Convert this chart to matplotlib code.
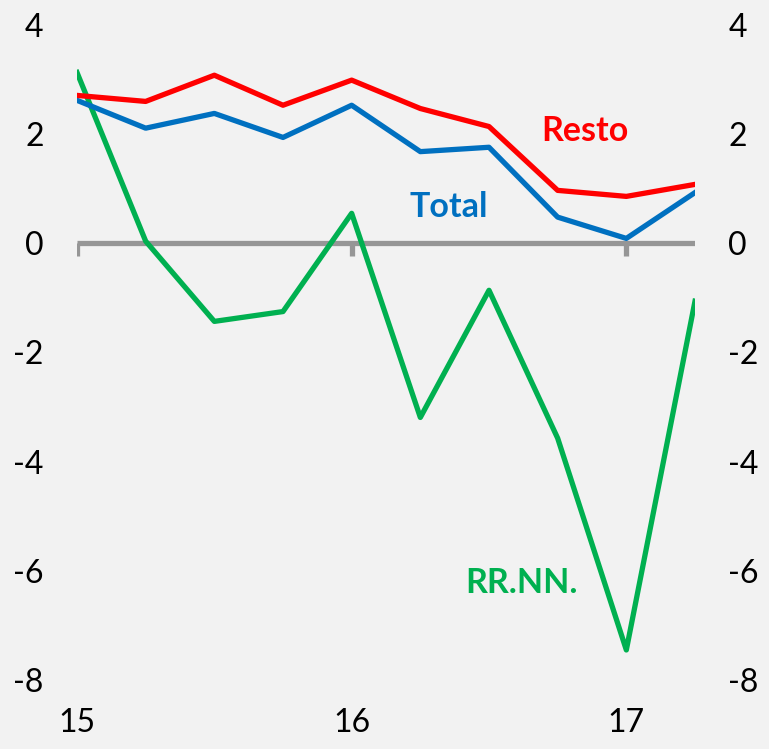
import matplotlib
matplotlib.use("Agg")
import matplotlib.pyplot as plt
import numpy as np

plt.rcParams['font.family'] = ['Lato', 'DejaVu Sans']

quarters = ["15Q1", "15Q2", "15Q3", "15Q4", "16Q1", "16Q2", "16Q3", "16Q4", "17Q1", "17Q2"]
resto = [2.71, 2.60, 3.08, 2.53, 2.99, 2.47, 2.14, 0.97, 0.86, 1.08]
total = [2.62, 2.11, 2.38, 1.94, 2.53, 1.68, 1.76, 0.48, 0.09, 0.93]
rrnn = [3.13, 0.04, -1.43, -1.25, 0.55, -3.19, -0.86, -3.57, -7.45, -1.06]
year_labels = ["15", "16", "17"]
year_pos = [0, 4, 8]
yticks = [-8, -6, -4, -2, 0, 2, 4]

bg = "#f2f2f2"
fig = plt.figure(figsize=(7.69, 7.49), dpi=100, facecolor=bg)
ax = fig.add_axes([77/769, 1-680/749, 618/769, 655/749], facecolor=bg)

x = np.arange(len(quarters))
ax.axhline(0, color="#969696", lw=3.8, zorder=1, solid_capstyle="butt")
for p in year_pos:
    ax.plot([p, p], [0, -0.24], color="#969696", lw=3.8, zorder=1, solid_capstyle="butt")

ax.plot(x, rrnn, color="#00B050", lw=3.8, zorder=3)
ax.plot(x, total, color="#0070C0", lw=3.8, zorder=4)
ax.plot(x, resto, color="#FF0000", lw=3.8, zorder=5)

ax.text(7.4, 2.05, "Resto", color="#FF0000", fontsize=24.5, fontweight="bold", ha="center", va="center")
ax.text(5.42, 0.66, "Total", color="#0070C0", fontsize=24.5, fontweight="bold", ha="center", va="center")
ax.text(6.47, -6.23, "RR.NN.", color="#00B050", fontsize=24.5, fontweight="bold", ha="center", va="center")

ax.set_xlim(0, 9)
ax.set_ylim(-8, 4)
ax.set_yticks(yticks)
ax.set_yticklabels([str(v) for v in yticks])
ax.set_xticks(year_pos)
ax.set_xticklabels(year_labels)
ax.tick_params(axis="y", length=0, labelsize=23, pad=24, labelleft=True, labelright=True)
ax.tick_params(axis="x", length=0, labelsize=23, pad=20)
for s in ax.spines.values():
    s.set_visible(False)

fig.savefig("out.png", dpi=100, facecolor=bg)
